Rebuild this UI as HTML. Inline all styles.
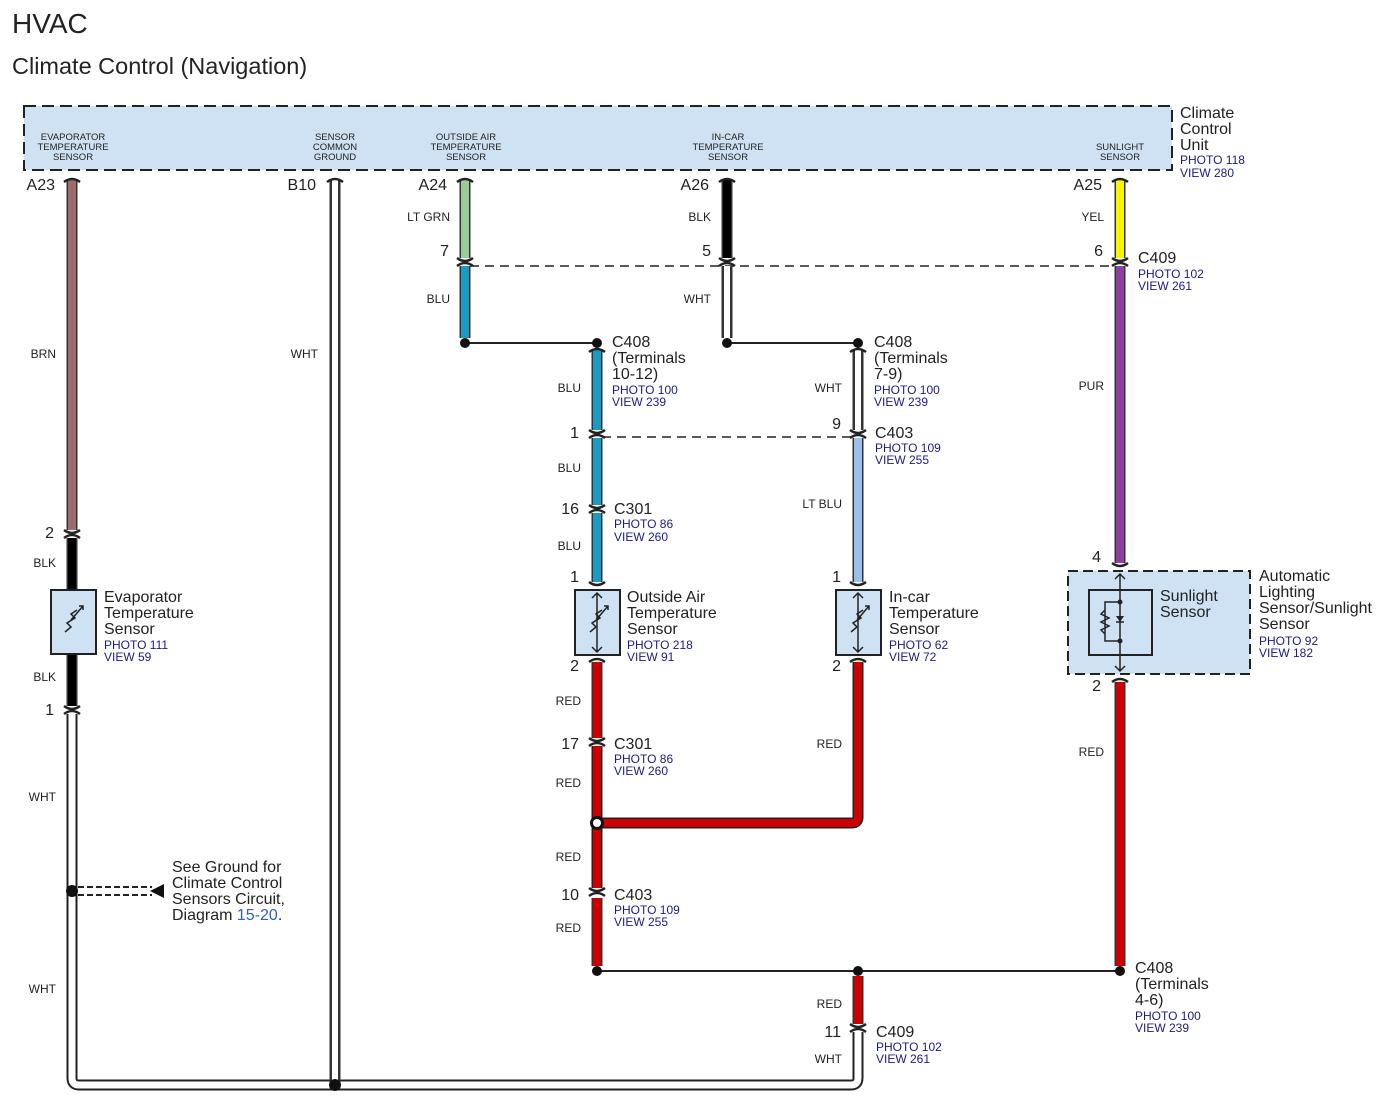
<!DOCTYPE html>
<html><head><meta charset="utf-8"><style>
body{margin:0;background:#fff}
svg{display:block;font-family:"Liberation Sans",sans-serif}
.t{font-size:16px;fill:#222}
.s{font-size:12px;fill:#222}
.b{font-size:12px;fill:#1a1a8c}
.h{font-size:9.5px;fill:#222}
.w{font-size:12px;fill:#222}
</style></head><body>
<svg width="1382" height="1102" viewBox="0 0 1382 1102">
<text x="12" y="33" style="font-size:28px" fill="#222">HVAC</text>
<text x="12" y="74" style="font-size:23.5px" fill="#222">Climate Control (Navigation)</text>
<rect x="24" y="106" width="1148" height="64" fill="#cfe2f3" stroke="#222" stroke-width="2" stroke-dasharray="12,6"/>
<g class="h" text-anchor="middle">
<text x="73" y="140">EVAPORATOR</text><text x="73" y="150">TEMPERATURE</text><text x="73" y="160">SENSOR</text>
<text x="335" y="140">SENSOR</text><text x="335" y="150">COMMON</text><text x="335" y="160">GROUND</text>
<text x="466" y="140">OUTSIDE AIR</text><text x="466" y="150">TEMPERATURE</text><text x="466" y="160">SENSOR</text>
<text x="728" y="140">IN-CAR</text><text x="728" y="150">TEMPERATURE</text><text x="728" y="160">SENSOR</text>
<text x="1120" y="150">SUNLIGHT</text><text x="1120" y="160">SENSOR</text>
</g>
<text x="1180" y="118" class="t">Climate</text><text x="1180" y="134" class="t">Control</text><text x="1180" y="150" class="t">Unit</text>
<text x="1180" y="164" class="b">PHOTO 118</text><text x="1180" y="177" class="b">VIEW 280</text>

<g stroke="#222" stroke-width="2" fill="none">
<line x1="465" y1="343" x2="597" y2="343"/>
<line x1="727" y1="343" x2="858" y2="343"/>
<line x1="597" y1="971" x2="1120" y2="971"/>
<line x1="470" y1="266" x2="1115" y2="266" stroke-dasharray="9,6" stroke-width="1.5"/>
<line x1="602" y1="437" x2="853" y2="437" stroke-dasharray="9,6" stroke-width="1.5"/>
</g>
<path d="M72 714 V1078 Q72 1085 79 1085 H851 Q858 1085 858 1078 V1032" fill="none" stroke="#222" stroke-width="11"/>
<path d="M72 714 V1078 Q72 1085 79 1085 H851 Q858 1085 858 1078 V1032" fill="none" stroke="#fff" stroke-width="7"/>
<path d="M597 746 V888 M597 823 H852 Q858 823 858 817 V662" fill="none" stroke="#222" stroke-width="11"/>
<path d="M597 746 V888 M597 823 H852 Q858 823 858 817 V662" fill="none" stroke="#cc0000" stroke-width="8"/>

<g fill="none">
<g stroke="#333" stroke-width="11">
<line x1="72" y1="180" x2="72" y2="530"/><line x1="72" y1="538" x2="72" y2="590"/><line x1="72" y1="654" x2="72" y2="706"/>
<line x1="335" y1="180" x2="335" y2="1085"/>
<line x1="465" y1="180" x2="465" y2="258"/><line x1="465" y1="266" x2="465" y2="338"/>
<line x1="727" y1="180" x2="727" y2="258"/><line x1="727" y1="266" x2="727" y2="338"/>
<line x1="1120" y1="180" x2="1120" y2="258"/><line x1="1120" y1="266" x2="1120" y2="563"/><line x1="1120" y1="682" x2="1120" y2="966"/>
<line x1="597" y1="350" x2="597" y2="430"/><line x1="597" y1="438" x2="597" y2="505"/><line x1="597" y1="513" x2="597" y2="582"/>
<line x1="597" y1="662" x2="597" y2="738"/><line x1="597" y1="898" x2="597" y2="966"/>
<line x1="858" y1="350" x2="858" y2="430"/><line x1="858" y1="438" x2="858" y2="582"/>
<line x1="858" y1="976" x2="858" y2="1024"/>
</g>
<g stroke-width="8">
<line x1="72" y1="180" x2="72" y2="530" stroke="#9c6b6b"/>
<line x1="72" y1="538" x2="72" y2="590" stroke="#000"/><line x1="72" y1="654" x2="72" y2="706" stroke="#000"/>
<line x1="465" y1="180" x2="465" y2="258" stroke="#99cc99"/><line x1="465" y1="266" x2="465" y2="338" stroke="#1a9bc6"/>
<line x1="727" y1="180" x2="727" y2="258" stroke="#000"/>
<line x1="1120" y1="180" x2="1120" y2="258" stroke="#f5f500"/><line x1="1120" y1="266" x2="1120" y2="563" stroke="#8e3fa0"/><line x1="1120" y1="682" x2="1120" y2="966" stroke="#cc0000"/>
<line x1="597" y1="350" x2="597" y2="430" stroke="#1a9bc6"/><line x1="597" y1="438" x2="597" y2="505" stroke="#1a9bc6"/><line x1="597" y1="513" x2="597" y2="582" stroke="#1a9bc6"/>
<line x1="597" y1="662" x2="597" y2="738" stroke="#cc0000"/><line x1="597" y1="898" x2="597" y2="966" stroke="#cc0000"/>
<line x1="858" y1="438" x2="858" y2="582" stroke="#9cc0ea"/>
<line x1="858" y1="976" x2="858" y2="1024" stroke="#cc0000"/>
</g>
<g stroke="#fff" stroke-width="6">
<line x1="335" y1="180" x2="335" y2="1082"/>
<line x1="727" y1="266" x2="727" y2="338"/>
<line x1="858" y1="350" x2="858" y2="430"/>
</g>
<g stroke="#222" stroke-width="2.5">
<path d="M64 182 Q72 176 80 182"/><path d="M327 182 Q335 176 343 182"/><path d="M457 182 Q465 176 473 182"/><path d="M719 182 Q727 176 735 182"/><path d="M1112 182 Q1120 176 1128 182"/>
<path d="M64 530 Q72 536 80 530"/><path d="M64 538 Q72 532 80 538"/>
<path d="M64 706 Q72 712 80 706"/><path d="M64 714 Q72 708 80 714"/>
<path d="M457 258 Q465 264 473 258"/><path d="M457 266 Q465 260 473 266"/>
<path d="M719 258 Q727 264 735 258"/><path d="M719 266 Q727 260 735 266"/>
<path d="M1112 258 Q1120 264 1128 258"/><path d="M1112 266 Q1120 260 1128 266"/>
<path d="M589 352 Q597 346 605 352"/><path d="M850 352 Q858 346 866 352"/>
<path d="M589 430 Q597 436 605 430"/><path d="M589 438 Q597 432 605 438"/>
<path d="M850 430 Q858 436 866 430"/><path d="M850 438 Q858 432 866 438"/>
<path d="M589 505 Q597 511 605 505"/><path d="M589 513 Q597 507 605 513"/>
<path d="M589 582 Q597 588 605 582"/><path d="M850 582 Q858 588 866 582"/>
<path d="M589 662 Q597 656 605 662"/><path d="M850 662 Q858 656 866 662"/>
<path d="M1112 563 Q1120 569 1128 563"/><path d="M1112 682 Q1120 676 1128 682"/>
<path d="M589 738 Q597 744 605 738"/><path d="M589 746 Q597 740 605 746"/>
<path d="M589 888 Q597 894 605 888"/><path d="M589 896 Q597 890 605 896"/>
<path d="M850 1024 Q858 1030 866 1024"/><path d="M850 1032 Q858 1026 866 1032"/>
</g>
</g>
<g fill="#111">
<circle cx="465" cy="343" r="5"/><circle cx="597" cy="343" r="5"/><circle cx="727" cy="343" r="5"/><circle cx="858" cy="343" r="5"/>
<circle cx="597" cy="971" r="5"/><circle cx="858" cy="971" r="5"/><circle cx="1120" cy="971" r="5"/>
<circle cx="335" cy="1085" r="6"/><circle cx="72" cy="891" r="6"/>
<circle cx="597" cy="823" r="7"/>
</g>
<circle cx="597" cy="823" r="4" fill="#fff"/>
<line x1="78" y1="887" x2="152" y2="887" stroke="#222" stroke-width="2" stroke-dasharray="6,3"/>
<line x1="78" y1="895" x2="152" y2="895" stroke="#222" stroke-width="2" stroke-dasharray="6,3"/>
<polygon points="150,891 164,884 164,898" fill="#111"/>
<g stroke="#222" stroke-width="2" fill="#cfe2f3">
<rect x="51" y="590" width="45" height="64"/>
<rect x="575" y="590" width="45" height="65"/>
<rect x="836" y="590" width="45" height="65"/>
<rect x="1068" y="571" width="182" height="103" stroke-dasharray="10,5"/>
<rect x="1089" y="590" width="63" height="65" fill="none"/>
</g>
<g stroke="#222" stroke-width="1.5" fill="none">
<path d="M597 593 V652 M592 598 L597 593 L602 598 M592 647 L597 652 L602 647"/>
<path d="M858 593 V652 M853 598 L858 593 L863 598 M853 647 L858 652 L863 647"/>
<path d="M1120 574 V671 M1115 579 L1120 574 L1125 579 M1115 666 L1120 671 L1125 666"/>
<path d="M590 632 L596 627 L592 623 L600 618 L596 614 L602 610 M596 620 L608 606 M604 606 L608 606 L608 610"/>
<path d="M851 632 L857 627 L853 623 L861 618 L857 614 L863 610 M857 620 L869 606 M865 606 L869 606 L869 610"/>
<path d="M65 632 L71 627 L67 623 L75 618 L71 614 L77 610 M71 620 L83 606 M79 606 L83 606 L83 610"/>
<path d="M1120 602 H1105 V641 H1120 M1105 610 L1101 614 L1109 618 L1101 622 L1109 626 L1101 630 L1105 634"/>
<path d="M1116 622 H1124"/>
</g>
<polygon points="1116,616 1124,616 1120,622" fill="#222"/>
<circle cx="1120" cy="602" r="2.5" fill="#222"/><circle cx="1120" cy="641" r="2.5" fill="#222"/>

<g class="w" text-anchor="end">
<text x="56" y="358">BRN</text><text x="56" y="567">BLK</text><text x="56" y="681">BLK</text><text x="56" y="801">WHT</text><text x="56" y="993">WHT</text>
<text x="318" y="358">WHT</text>
<text x="450" y="221">LT GRN</text><text x="450" y="303">BLU</text>
<text x="711" y="221">BLK</text><text x="711" y="303">WHT</text>
<text x="1104" y="221">YEL</text><text x="1104" y="390">PUR</text><text x="1104" y="756">RED</text>
<text x="581" y="392">BLU</text><text x="581" y="472">BLU</text><text x="581" y="550">BLU</text>
<text x="581" y="705">RED</text><text x="581" y="787">RED</text><text x="581" y="861">RED</text><text x="581" y="932">RED</text>
<text x="842" y="392">WHT</text><text x="842" y="508">LT BLU</text><text x="842" y="748">RED</text>
<text x="842" y="1008">RED</text><text x="842" y="1063">WHT</text>
</g>
<g class="t" text-anchor="end">
<text x="55" y="190">A23</text><text x="316" y="190">B10</text><text x="447" y="190">A24</text><text x="709" y="190">A26</text><text x="1102" y="190">A25</text>
<text x="54" y="538">2</text><text x="54" y="715">1</text>
<text x="449" y="256">7</text><text x="711" y="256">5</text><text x="1103" y="256">6</text>
<text x="579" y="438">1</text><text x="579" y="514">16</text><text x="579" y="582">1</text><text x="579" y="671">2</text>
<text x="579" y="749">17</text><text x="579" y="900">10</text>
<text x="841" y="429">9</text><text x="841" y="582">1</text><text x="841" y="671">2</text>
<text x="1101" y="562">4</text><text x="1101" y="691">2</text>
<text x="841" y="1037">11</text>
</g>
<g>
<text x="104" y="602" class="t">Evaporator</text><text x="104" y="618" class="t">Temperature</text><text x="104" y="634" class="t">Sensor</text><text x="104" y="649" class="b">PHOTO 111</text><text x="104" y="661" class="b">VIEW 59</text>
<text x="172" y="872" class="t">See Ground for</text><text x="172" y="888" class="t">Climate Control</text><text x="172" y="904" class="t">Sensors Circuit,</text><text x="172" y="920" class="t">Diagram <tspan fill="#3060c0">15-20</tspan>.</text>
<text x="612" y="347" class="t">C408</text><text x="612" y="363" class="t">(Terminals</text><text x="612" y="379" class="t">10-12)</text><text x="612" y="394" class="b">PHOTO 100</text><text x="612" y="406" class="b">VIEW 239</text>
<text x="874" y="347" class="t">C408</text><text x="874" y="363" class="t">(Terminals</text><text x="874" y="379" class="t">7-9)</text><text x="874" y="394" class="b">PHOTO 100</text><text x="874" y="406" class="b">VIEW 239</text>
<text x="875" y="438" class="t">C403</text><text x="875" y="452" class="b">PHOTO 109</text><text x="875" y="464" class="b">VIEW 255</text>
<text x="614" y="514" class="t">C301</text><text x="614" y="528" class="b">PHOTO 86</text><text x="614" y="541" class="b">VIEW 260</text>
<text x="627" y="602" class="t">Outside Air</text><text x="627" y="618" class="t">Temperature</text><text x="627" y="634" class="t">Sensor</text><text x="627" y="649" class="b">PHOTO 218</text><text x="627" y="661" class="b">VIEW 91</text>
<text x="889" y="602" class="t">In-car</text><text x="889" y="618" class="t">Temperature</text><text x="889" y="634" class="t">Sensor</text><text x="889" y="649" class="b">PHOTO 62</text><text x="889" y="661" class="b">VIEW 72</text>
<text x="614" y="749" class="t">C301</text><text x="614" y="763" class="b">PHOTO 86</text><text x="614" y="775" class="b">VIEW 260</text>
<text x="614" y="900" class="t">C403</text><text x="614" y="914" class="b">PHOTO 109</text><text x="614" y="926" class="b">VIEW 255</text>
<text x="876" y="1037" class="t">C409</text><text x="876" y="1051" class="b">PHOTO 102</text><text x="876" y="1063" class="b">VIEW 261</text>
<text x="1138" y="263" class="t">C409</text><text x="1138" y="278" class="b">PHOTO 102</text><text x="1138" y="290" class="b">VIEW 261</text>
<text x="1160" y="601" class="t">Sunlight</text><text x="1160" y="617" class="t">Sensor</text>
<text x="1259" y="581" class="t">Automatic</text><text x="1259" y="597" class="t">Lighting</text><text x="1259" y="613" class="t">Sensor/Sunlight</text><text x="1259" y="629" class="t">Sensor</text><text x="1259" y="645" class="b">PHOTO 92</text><text x="1259" y="657" class="b">VIEW 182</text>
<text x="1135" y="973" class="t">C408</text><text x="1135" y="989" class="t">(Terminals</text><text x="1135" y="1005" class="t">4-6)</text><text x="1135" y="1020" class="b">PHOTO 100</text><text x="1135" y="1032" class="b">VIEW 239</text>
</g>
</svg>
</body></html>
